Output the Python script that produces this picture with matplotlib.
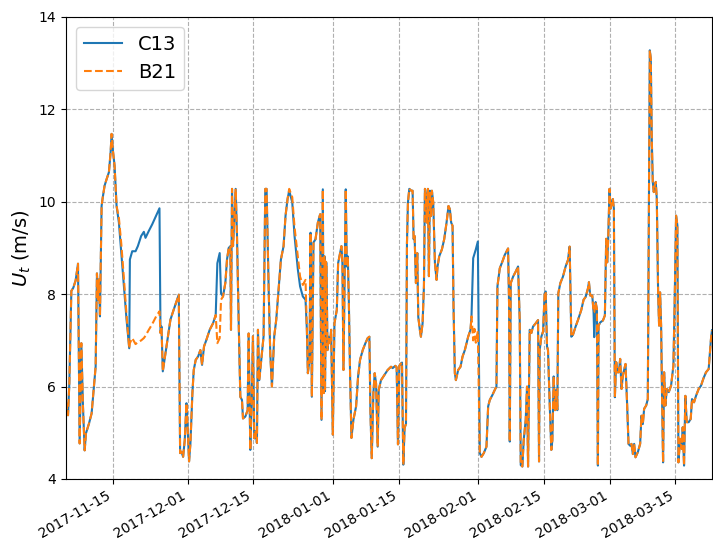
import matplotlib
matplotlib.use("Agg")
import matplotlib.pyplot as plt
import pandas as pd
import numpy as np

# Wind speed U_t at two stations, sampled irregularly.
# Time axis: days elapsed since 2017-11-05 00:00.
t0 = "2017-11-05"
days = [
    0.06, 0.49, 0.77, 1.20, 1.62, 2.12, 2.62, 2.97, 3.33, 3.68,
    4.04, 4.32, 4.96, 5.52, 6.38, 6.66, 6.87, 7.09, 7.30, 7.65,
    7.86, 8.29, 8.72, 9.21, 9.57, 9.78, 10.06, 10.42, 10.84, 11.34,
    11.84, 12.40, 12.97, 13.54, 13.68, 14.18, 14.89, 15.38, 16.09, 16.66,
    17.01, 17.72, 18.43, 19.28, 19.99, 20.21, 20.42, 20.70, 21.27, 22.33,
    23.04, 23.75, 24.11, 24.39, 24.67, 25.03, 25.38, 25.74, 25.95, 26.30,
    26.59, 27.01, 27.30, 27.72, 28.22, 28.71, 29.07, 29.49, 29.99, 30.70,
    31.41, 31.98, 32.33, 32.83, 33.11, 33.54, 34.04, 34.39, 34.75, 35.10,
    35.24, 35.46, 35.67, 35.95, 36.24, 36.52, 36.87, 37.23, 37.58, 37.80,
    38.29, 38.79, 39.00, 39.36, 39.64, 39.92, 40.21, 40.49, 40.77, 40.99,
    41.27, 41.84, 42.19, 42.55, 42.83, 43.26, 43.61, 43.97, 44.46, 44.89,
    45.39, 45.88, 46.45, 46.87, 47.30, 47.65, 48.30, 48.79, 49.50, 49.97,
    50.56, 51.13, 51.42, 51.63, 51.98, 52.20, 52.48, 52.83, 53.26, 53.76,
    54.25, 54.54, 54.82, 55.03, 55.17, 55.28, 55.39, 55.50, 55.60, 55.81,
    56.10, 56.38, 56.59, 56.95, 57.30, 57.80, 58.08, 58.51, 58.79, 59.00,
    59.22, 59.50, 59.71, 59.93, 60.14, 60.35, 60.64, 60.92, 61.34, 61.91,
    62.34, 62.76, 63.33, 63.90, 64.39, 64.75, 64.96, 65.25, 65.60, 65.88,
    66.17, 66.52, 66.74, 67.23, 67.94, 68.65, 69.36, 69.71, 70.28, 70.56,
    70.84, 71.13, 71.48, 71.70, 71.98, 72.26, 72.55, 72.76, 72.97, 73.26,
    73.68, 73.96, 74.18, 74.39, 74.67, 74.96, 75.17, 75.52, 75.74, 76.09,
    76.38, 76.59, 76.80, 77.01, 77.23, 77.44, 77.65, 77.87, 78.08, 78.36,
    78.72, 79.07, 79.28, 79.64, 80.21, 80.70, 81.20, 81.62, 81.91, 82.19,
    82.48, 82.69, 82.97, 83.19, 83.68, 84.18, 84.61, 85.10, 85.46, 85.81,
    86.31, 86.52, 86.88, 87.15, 87.44, 87.87, 88.29, 88.65, 89.14, 89.71,
    90.07, 90.42, 90.99, 91.49, 91.84, 92.05, 92.55, 93.12, 93.61, 93.97,
    94.32, 94.54, 94.68, 94.89, 95.39, 95.95, 96.45, 96.80, 97.02, 97.37,
    97.65, 98.08, 98.36, 98.58, 98.93, 99.29, 99.64, 100.21, 100.71, 100.92,
    101.06, 101.41, 101.77, 102.12, 102.34, 102.62, 102.83, 103.19, 103.54, 103.76,
    104.04, 104.32, 104.61, 104.82, 105.03, 105.46, 106.02, 106.59, 107.09, 107.45,
    107.80, 108.15, 108.72, 109.22, 109.93, 110.42, 110.85, 111.34, 111.56, 111.84,
    112.27, 112.55, 112.69, 112.98, 113.26, 113.47, 113.61, 113.97, 114.54, 114.96,
    115.24, 115.46, 115.67, 115.95, 116.17, 116.45, 116.66, 116.88, 117.09, 117.37,
    117.66, 117.94, 118.22, 118.51, 118.79, 119.36, 119.71, 120.00, 120.35, 120.63,
    120.92, 121.20, 121.49, 121.98, 122.48, 122.76, 123.05, 123.33, 123.76, 124.11,
    124.54, 124.75, 124.96, 125.17, 125.39, 125.60, 125.81, 126.03, 126.31, 126.52,
    126.73, 126.95, 127.16, 127.37, 127.59, 127.87, 128.15, 128.58, 129.07, 129.57,
    129.85, 130.14, 130.42, 130.64, 130.99, 131.34, 131.56, 131.84, 132.12, 132.41,
    132.83, 133.26, 133.54, 133.97, 134.39, 134.96, 135.46, 135.95, 136.52, 137.09,
    137.58, 137.80,
]

c13 = [
    5.67, 5.38, 6.07, 8.07, 8.14, 8.30, 8.66, 4.77, 6.94, 5.57,
    4.62, 4.99, 5.20, 5.42, 6.43, 8.45, 7.88, 8.32, 7.52, 9.91,
    10.07, 10.35, 10.49, 10.64, 11.07, 11.47, 11.11, 10.78, 9.91, 9.55,
    8.90, 8.17, 7.45, 6.83, 8.75, 8.93, 8.93, 9.04, 9.26, 9.35,
    9.22, 9.37, 9.51, 9.70, 9.86, 7.16, 7.30, 6.33, 6.72, 7.45,
    7.67, 7.88, 7.99, 4.56, 4.59, 4.48, 4.84, 5.64, 5.21, 4.38,
    4.77, 5.86, 6.36, 6.58, 6.65, 6.79, 6.47, 6.87, 7.01, 7.23,
    7.37, 7.55, 8.67, 8.89, 8.02, 7.95, 8.25, 8.75, 9.00, 9.04,
    7.23, 10.28, 9.04, 9.62, 10.28, 9.26, 7.45, 5.78, 5.71, 5.31,
    5.35, 5.49, 7.15, 4.63, 5.64, 7.09, 4.88, 5.03, 4.78, 7.23,
    6.14, 6.72, 7.09, 10.28, 10.28, 8.17, 6.72, 6.00, 7.09, 7.45,
    8.10, 8.75, 9.04, 9.70, 10.06, 10.24, 9.99, 9.26, 8.53, 8.17,
    7.95, 7.88, 7.23, 6.29, 6.58, 9.33, 5.78, 9.12, 9.19, 9.55,
    9.73, 5.28, 10.27, 5.86, 8.82, 5.90, 6.94, 8.70, 8.67, 6.79,
    7.08, 6.94, 7.23, 4.96, 7.37, 7.66, 8.67, 8.89, 9.04, 8.67,
    6.36, 8.60, 10.27, 8.60, 8.82, 7.95, 6.22, 4.89, 5.28, 5.57,
    6.22, 6.58, 6.79, 6.94, 7.05, 7.08, 5.50, 4.45, 5.86, 6.29,
    6.07, 4.70, 5.93, 6.14, 6.25, 6.36, 6.43, 6.40, 6.45, 6.42,
    4.75, 6.45, 6.50, 6.52, 4.31, 5.11, 5.19, 9.11, 9.99, 10.28,
    10.24, 10.24, 9.19, 9.26, 8.24, 8.89, 7.51, 7.22, 7.08, 7.37,
    8.17, 10.28, 10.13, 9.55, 10.28, 8.39, 10.24, 9.69, 10.24, 9.99,
    8.68, 8.31, 8.60, 8.82, 8.97, 9.19, 9.55, 9.91, 9.84, 9.55,
    9.48, 7.73, 6.29, 6.14, 6.36, 6.43, 6.65, 6.79, 6.94, 7.08,
    7.23, 7.52, 8.78, 8.87, 8.97, 9.14, 4.56, 4.48, 4.56, 4.70,
    5.57, 5.71, 5.82, 5.93, 6.00, 8.17, 8.56, 8.71, 8.85, 8.92,
    8.99, 7.73, 4.81, 8.24, 8.38, 8.49, 8.60, 7.44, 4.30, 4.27,
    4.84, 5.28, 6.00, 4.27, 7.23, 7.16, 7.30, 7.37, 7.44, 4.38,
    6.79, 7.08, 7.19, 8.02, 8.06, 6.87, 6.79, 5.64, 4.63, 4.84,
    6.22, 5.49, 5.93, 5.49, 8.02, 8.24, 8.38, 8.60, 8.74, 9.03,
    7.08, 7.12, 7.30, 7.44, 7.66, 7.88, 7.94, 8.12, 8.26, 7.97,
    7.97, 7.61, 7.07, 7.83, 7.68, 4.29, 7.32, 7.39, 7.43, 7.54,
    9.20, 8.69, 9.20, 10.28, 9.85, 9.99, 10.06, 9.85, 5.77, 6.53,
    6.31, 6.31, 6.60, 5.95, 6.24, 6.49, 5.59, 4.76, 4.72, 4.76,
    4.54, 4.76, 4.47, 4.58, 4.76, 5.37, 5.19, 5.52, 5.59, 5.73,
    13.28, 13.10, 11.36, 10.43, 10.21, 10.35, 10.43, 10.06, 8.04, 7.32,
    8.04, 7.32, 5.73, 4.36, 6.31, 5.59, 5.95, 5.88, 6.02, 6.45,
    7.90, 9.70, 9.49, 4.36, 4.87, 4.65, 5.12, 4.29, 5.80, 5.23,
    5.23, 5.30, 5.73, 5.66, 5.80, 5.95, 6.02, 6.17, 6.31, 6.38,
    7.03, 7.22,
]

b21 = [
    5.67, 5.38, 6.07, 8.07, 8.14, 8.30, 8.66, 4.77, 6.94, 5.57,
    4.62, 4.99, 5.20, 5.42, 6.43, 8.45, 7.88, 8.32, 7.52, 9.91,
    10.07, 10.35, 10.49, 10.64, 11.07, 11.47, 11.11, 10.78, 9.91, 9.65,
    9.10, 8.35, 7.55, 6.83, 6.94, 7.05, 6.92, 6.96, 7.00, 7.05,
    7.10, 7.23, 7.35, 7.52, 7.63, 7.16, 7.30, 6.33, 6.72, 7.45,
    7.67, 7.88, 7.99, 4.56, 4.59, 4.48, 4.84, 5.64, 5.21, 4.38,
    4.77, 5.86, 6.36, 6.58, 6.65, 6.79, 6.47, 6.87, 7.01, 7.23,
    7.37, 7.55, 6.94, 7.05, 7.88, 7.95, 8.25, 8.75, 9.00, 9.04,
    7.23, 10.28, 9.04, 9.62, 10.28, 9.26, 7.45, 5.78, 5.71, 5.31,
    5.35, 5.49, 7.15, 4.63, 5.64, 7.09, 4.88, 5.03, 4.78, 7.23,
    6.14, 6.72, 7.09, 10.28, 10.28, 8.17, 6.72, 6.00, 7.09, 7.45,
    8.10, 8.75, 9.04, 9.70, 10.06, 10.28, 10.10, 9.45, 8.80, 8.38,
    8.20, 8.31, 7.23, 6.29, 6.58, 9.33, 5.78, 9.12, 9.19, 9.55,
    9.73, 5.28, 10.27, 5.86, 8.82, 5.90, 6.94, 8.70, 8.67, 6.79,
    7.08, 6.94, 7.23, 4.96, 7.37, 7.66, 8.67, 8.89, 9.04, 8.67,
    6.36, 8.60, 10.27, 8.60, 8.82, 7.95, 6.22, 4.89, 5.28, 5.57,
    6.22, 6.58, 6.79, 6.94, 7.05, 7.08, 5.50, 4.45, 5.86, 6.29,
    6.07, 4.70, 5.93, 6.14, 6.25, 6.36, 6.43, 6.40, 6.45, 6.42,
    4.75, 6.45, 6.50, 6.52, 4.31, 5.11, 5.19, 9.11, 9.99, 10.28,
    10.24, 10.24, 9.19, 9.26, 8.24, 8.89, 7.51, 7.22, 7.08, 7.37,
    8.17, 10.28, 10.13, 9.55, 10.28, 8.39, 10.24, 9.69, 10.24, 9.99,
    8.68, 8.31, 8.60, 8.82, 8.97, 9.19, 9.55, 9.91, 9.84, 9.55,
    9.48, 7.73, 6.29, 6.14, 6.36, 6.43, 6.65, 6.79, 6.94, 7.08,
    7.23, 7.52, 7.00, 7.25, 6.95, 7.20, 4.56, 4.48, 4.56, 4.70,
    5.57, 5.71, 5.82, 5.93, 6.00, 8.17, 8.56, 8.71, 8.85, 8.92,
    8.99, 7.73, 4.81, 8.24, 8.38, 8.49, 8.60, 7.44, 4.30, 4.27,
    4.84, 5.28, 6.00, 4.27, 7.23, 7.16, 7.30, 7.37, 7.44, 4.38,
    6.79, 7.08, 7.19, 8.02, 8.06, 6.87, 6.79, 5.64, 4.63, 4.84,
    6.22, 5.49, 5.93, 5.49, 8.02, 8.24, 8.38, 8.60, 8.74, 9.03,
    7.08, 7.12, 7.30, 7.44, 7.66, 7.88, 7.94, 8.12, 8.26, 7.97,
    7.97, 7.61, 7.61, 7.83, 7.68, 4.29, 7.32, 7.39, 7.43, 7.54,
    9.20, 8.69, 9.20, 10.28, 9.85, 9.99, 10.06, 9.85, 5.77, 6.53,
    6.31, 6.31, 6.60, 5.95, 6.24, 6.49, 5.59, 4.76, 4.72, 4.76,
    4.54, 4.76, 4.47, 4.58, 4.76, 5.37, 5.19, 5.52, 5.59, 5.73,
    13.28, 13.10, 11.36, 10.43, 10.21, 10.35, 10.43, 10.06, 8.04, 7.32,
    8.04, 7.32, 5.73, 4.36, 6.31, 5.59, 5.95, 5.88, 6.02, 6.45,
    7.90, 9.70, 9.49, 4.36, 4.87, 4.65, 5.12, 4.29, 5.80, 5.23,
    5.23, 5.30, 5.73, 5.66, 5.80, 5.95, 6.02, 6.17, 6.31, 6.38,
    7.03, 7.22,
]

times = pd.Timestamp(t0) + pd.to_timedelta(np.array(days), unit="D")

fig = plt.figure(figsize=(7.13, 5.39), dpi=100)
ax = fig.add_axes([66 / 713, 1 - 479 / 539, (712 - 66) / 713, (479 - 17) / 539])

ax.plot(times, c13, color="#1f77b4", linestyle="-", linewidth=1.5, label="C13")
ax.plot(times, b21, color="#ff7f0e", linestyle="--", linewidth=1.5, label="B21")

ax.set_xlim(times[0], times[-1])
ax.set_ylim(4, 14)
ax.set_yticks([4, 6, 8, 10, 12, 14])
ax.set_ylabel("$U_t$ (m/s)", fontsize=14)
ax.grid(True, linestyle="--", color="#b0b0b0", linewidth=0.8)
ax.legend(loc="upper left", fontsize=14)

for lbl in ax.get_xticklabels():
    lbl.set_rotation(30)
    lbl.set_ha("right")

fig.savefig("out.png", dpi=100)
